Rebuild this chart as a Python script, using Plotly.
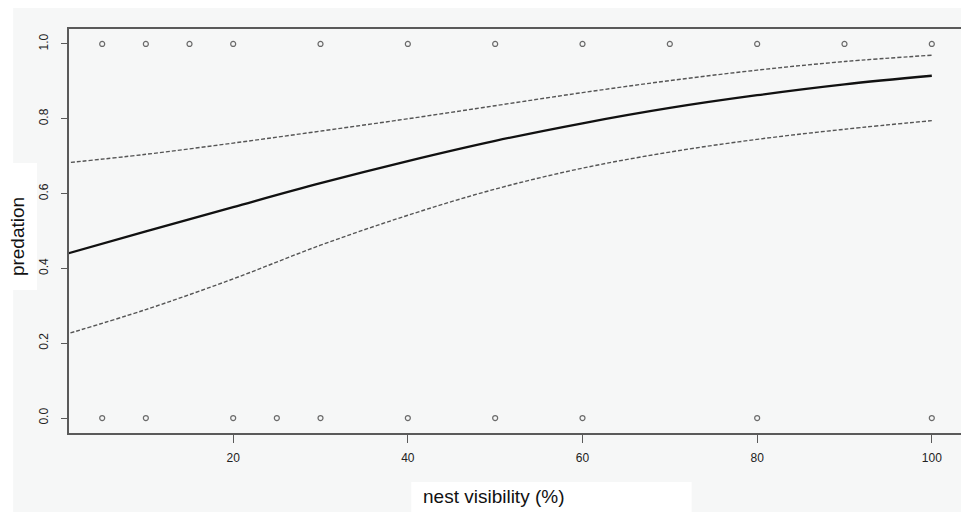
import plotly.graph_objects as go

# observed nests (visibility %, predated 0/1)
obs_x_pred = [5, 10, 15, 20, 30, 40, 50, 60, 70, 80, 90, 100]
obs_y_pred = [1] * len(obs_x_pred)
obs_x_safe = [5, 10, 20, 25, 30, 40, 50, 60, 80, 100]
obs_y_safe = [0] * len(obs_x_safe)

# fitted curve and confidence band
curve_x = [0, 10, 20, 30, 40, 50, 60, 70, 80, 90, 100]
fit = [0.433, 0.499, 0.564, 0.628, 0.687, 0.741, 0.788, 0.829, 0.863, 0.892, 0.915]
upper = [0.680, 0.705, 0.735, 0.767, 0.800, 0.835, 0.870, 0.902, 0.930, 0.953, 0.970]
lower = [0.218, 0.290, 0.372, 0.462, 0.542, 0.612, 0.668, 0.711, 0.745, 0.772, 0.795]

x_ticks = [20, 40, 60, 80, 100]
y_ticks = [0.0, 0.2, 0.4, 0.6, 0.8, 1.0]
y_tick_text = ["0.0", "0.2", "0.4", "0.6", "0.8", "1.0"]

OFF = 8  # page body margin
W, H = 969 - OFF, 512 - OFF
L, R, T, B = 69 - OFF, 2, 29 - OFF, 79
PW, PH = W - L - R, H - T - B
BG = "#f6f7f7"
AX = "#5a5a5a"

def px(x):  # page x -> paper
    return (x - OFF - L) / PW

def py(y):  # page y -> paper
    return (H - B - (y - OFF)) / PH

fig = go.Figure()
for ys, dash, wdt, col in [(upper, "4px,2px", 1.4, "#555555"),
                           (lower, "4px,2px", 1.4, "#555555"),
                           (fit, "solid", 2.3, "#111111")]:
    fig.add_trace(go.Scatter(x=curve_x, y=ys, mode="lines", line_shape="spline",
                             line=dict(color=col, width=wdt, dash=dash),
                             hoverinfo="skip", showlegend=False))
for xs, ys in [(obs_x_pred, obs_y_pred), (obs_x_safe, obs_y_safe)]:
    fig.add_trace(go.Scatter(x=xs, y=ys, mode="markers",
                             marker=dict(symbol="circle-open", size=5, color="#6a6a6a",
                                         line=dict(width=1.2, color="#6a6a6a")),
                             showlegend=False))

shapes = [
    dict(type="rect", xref="paper", yref="paper", x0=px(0), x1=px(13), y0=py(0), y1=py(512),
         fillcolor="white", line_width=0, layer="below"),
    dict(type="rect", xref="paper", yref="paper", x0=px(0), x1=px(37), y0=py(163), y1=py(290),
         fillcolor="white", line_width=0, layer="below"),
    dict(type="rect", xref="paper", yref="paper", x0=px(412), x1=px(693), y0=py(482), y1=py(512),
         fillcolor="white", line_width=0, layer="below"),
]

annotations = [
    dict(text="predation", xref="paper", yref="paper", x=px(17), y=py(237), showarrow=False,
         textangle=-90, font=dict(size=19, color="#111111", family="Liberation Sans, Arial"),
         xanchor="center", yanchor="middle"),
    dict(text="nest visibility (%)", xref="paper", yref="paper", x=px(422), y=py(497),
         showarrow=False, font=dict(size=19, color="#111111", family="Liberation Sans, Arial"),
         xanchor="left", yanchor="middle"),
]

axis_common = dict(showgrid=False, zeroline=False, showline=True, linecolor=AX, linewidth=1.5,
                   mirror=True, ticks="outside", tickcolor=AX, tickwidth=1.2,
                   tickfont=dict(size=12, color="#222222", family="Liberation Sans, Arial"))

fig.update_layout(
    width=W, height=H,
    margin=dict(l=L, r=R, t=T, b=B, pad=0),
    paper_bgcolor=BG, plot_bgcolor=BG,
    shapes=shapes, annotations=annotations,
    xaxis=dict(range=[1.2, 103.8], tickvals=x_ticks, ticklen=8, ticklabelstandoff=5, **axis_common),
    yaxis=dict(range=[-0.04, 1.04], tickvals=y_ticks, ticktext=y_tick_text, ticklen=6,
               tickangle=-90, ticklabelstandoff=8, **axis_common),
)

fig.write_html("out.html")
